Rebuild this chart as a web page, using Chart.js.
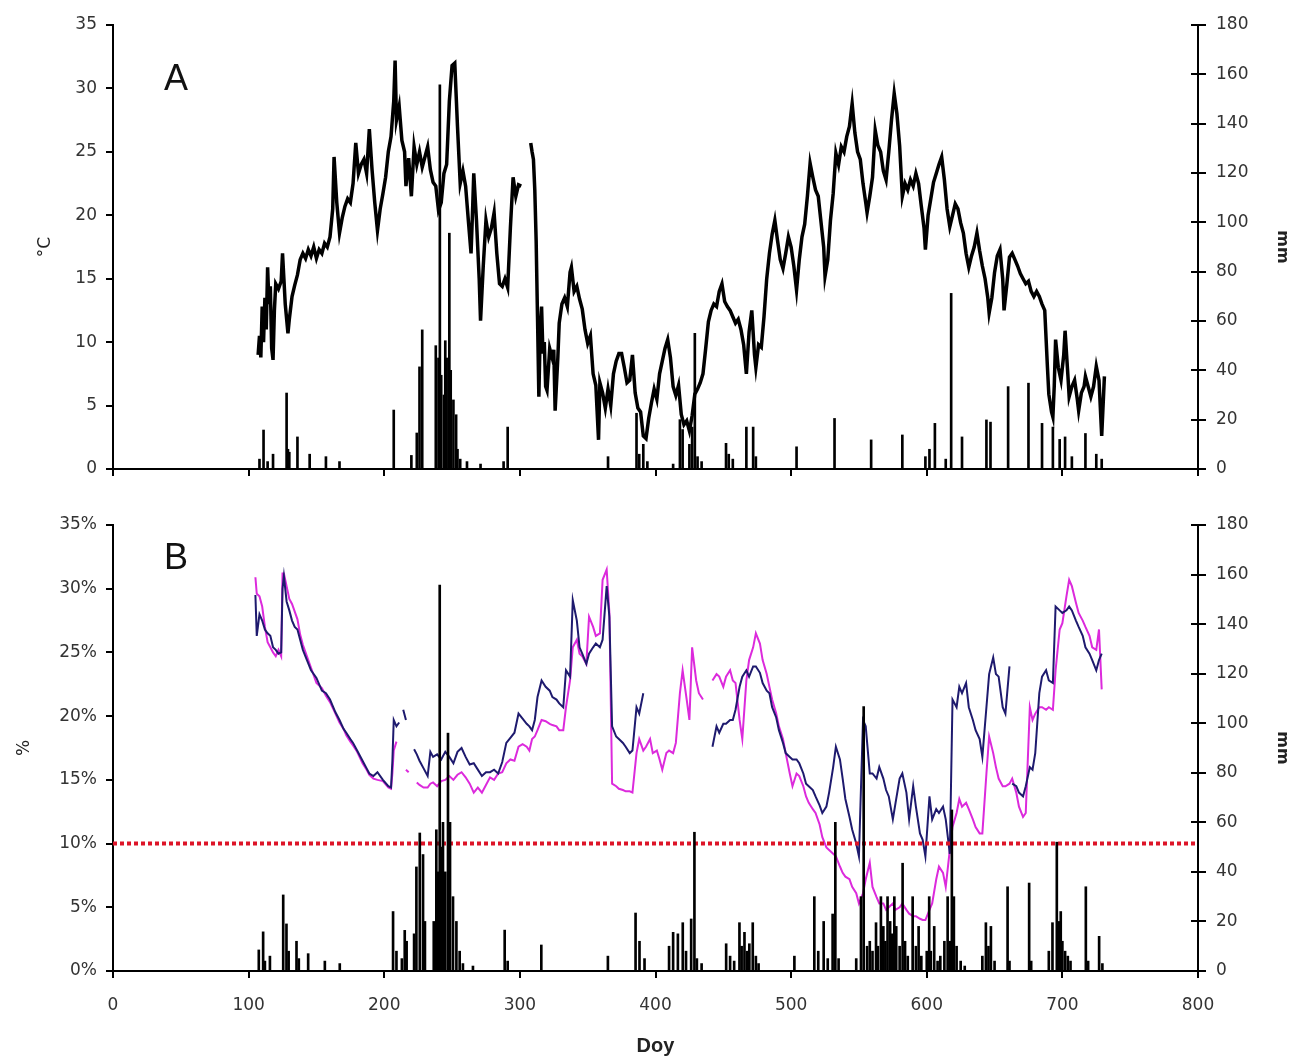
<!DOCTYPE html>
<html>
<head>
<meta charset="utf-8">
<script src="https://cdn.jsdelivr.net/npm/chart.js@4.4.1/dist/chart.umd.min.js"></script>
<style>
  body { margin: 0; background: #fff; }
  #wrap { position: relative; width: 1292px; height: 1059px; }
  canvas { position: absolute; left: 0; }
  #chartA { top: 0; }
  #chartB { top: 490px; }
  .panel-label { position: absolute; font-family: 'Liberation Sans', Arial, sans-serif; font-size: 36px; line-height: 1; color: #111; }
</style>
</head>
<body>
<div id="wrap">
  <canvas id="chartA" width="1292" height="490"></canvas>
  <canvas id="chartB" width="1292" height="569"></canvas>
  <div class="panel-label" style="left:164px; top:60px;">A</div>
  <div class="panel-label" style="left:164px; top:539px;">B</div>
</div>
<script>
// tick labels
const dayTicks = [0, 100, 200, 300, 400, 500, 600, 700, 800];
const tempTicks = [0, 5, 10, 15, 20, 25, 30, 35];
const pctTicks = [0, 5, 10, 15, 20, 25, 30, 35];
const mmTicks = [0, 20, 40, 60, 80, 100, 120, 140, 160, 180];

// panel A - air temperature (°C), null = gap
const tempDay = [107,108,109,110,111,112,113,114,115,116,117,118,119,120,122,124,125,126,127,129,130,132,134,136,138,140,142,144,146,148,150,152,154,156,158,160,162,163,165,167,169,171,173,175,177,179,181,183,185,187,189,191,193,195,197,199,201,203,205,207,208,209,211,213,215,216,218,220,222,224,226,228,230,232,234,236,238,240,242,244,246,248,250,252,254,256,258,260,262,264,265,266,268,270,271,273,275,277,279,281,283,285,287,289,291,293,295,297,299,301,304,308,309,310,311,312,313,314,315,316,317,318,319,320,322,324,325,326,328,329,331,333,335,337,338,340,342,344,346,348,350,352,354,356,358,359,361,363,365,367,369,371,373,375,377,379,381,383,385,387,389,391,393,395,397,399,401,403,405,407,409,411,413,415,417,419,421,423,425,427,429,431,433,435,437,439,441,443,445,447,449,451,453,455,457,459,461,463,465,467,469,471,473,474,476,478,480,482,484,486,488,490,492,494,496,498,500,502,504,506,508,510,512,514,516,518,520,522,524,525,527,529,531,533,535,537,539,541,543,545,547,549,551,553,555,556,558,560,562,564,566,568,570,572,574,576,578,580,582,584,586,588,590,592,594,596,598,599,601,603,605,607,609,611,613,615,617,619,621,623,625,627,629,631,633,635,637,639,641,643,645,646,648,650,652,654,656,657,659,661,663,665,667,669,671,673,675,677,679,681,683,685,687,689,690,692,693,694,695,697,699,701,702,704,705,707,709,711,712,714,716,717,719,721,723,725,727,729,731];
const tempC = [9.0,10.5,8.8,12.8,10.0,13.5,11.0,15.9,13.0,14.4,9.5,8.6,12.5,14.6,14.2,14.8,17.0,15.0,13.0,10.7,11.8,13.6,14.5,15.3,16.5,17.0,16.6,17.3,16.8,17.5,16.6,17.3,17.0,17.8,17.5,18.3,20.5,24.6,21.0,18.6,19.8,20.7,21.3,21.0,22.5,25.7,23.3,24.0,24.4,23.3,26.8,23.6,21.0,18.8,20.5,21.7,23.0,25.0,26.2,29.0,32.2,27.5,28.6,25.9,25.0,22.3,24.5,21.5,25.4,24.0,25.0,23.8,24.6,25.4,23.6,22.6,22.3,20.4,21.0,23.3,24.0,29.0,31.8,32.0,27.0,22.5,23.5,22.3,19.6,17.0,20.0,23.3,19.6,15.0,11.7,16.0,19.6,18.3,19.0,20.2,17.0,14.6,14.4,15.0,14.3,19.0,23.0,21.5,22.4,22.3,null,25.7,25.0,24.4,22.0,18.0,12.0,5.7,11.0,12.8,9.1,10.0,6.5,6.2,9.5,8.7,9.4,4.6,8.8,11.5,13.0,13.5,12.8,15.5,15.9,14.0,14.4,13.4,12.6,11.0,9.9,10.5,7.5,6.6,2.3,6.8,6.0,4.8,6.3,5.0,7.5,8.5,9.1,9.1,8.0,6.8,7.0,9.0,6.0,4.8,4.5,2.6,2.4,4.0,5.2,6.3,5.5,7.5,8.5,9.5,10.2,8.8,6.5,5.8,6.6,4.3,3.5,3.8,3.0,4.2,5.9,6.3,6.8,7.5,9.5,11.6,12.5,13.0,12.8,14.0,14.6,13.2,12.8,12.5,12.0,11.5,11.8,11.0,9.8,7.5,10.8,12.5,9.0,8.0,9.8,9.6,12.0,15.0,17.0,18.5,19.6,18.0,16.5,15.8,17.0,18.3,17.5,16.0,14.1,16.5,18.3,19.3,21.5,24.1,23.0,22.0,21.5,19.5,17.5,15.2,16.5,19.6,21.7,24.9,24.0,25.4,25.0,26.2,27.0,28.8,26.5,25.0,24.4,22.5,21.0,20.2,21.5,23.0,26.7,25.5,25.0,23.5,22.8,25.0,27.5,29.6,28.0,25.5,21.5,22.5,22.0,22.8,22.3,23.3,22.5,20.7,19.0,17.3,20.0,21.3,22.6,23.3,24.0,24.6,22.8,20.5,19.1,20.0,20.9,20.5,19.4,18.6,17.0,15.9,16.8,17.5,18.6,17.2,16.0,15.0,13.5,12.3,13.5,15.5,16.8,17.3,15.0,12.5,14.5,16.7,17.0,16.5,16.0,15.4,15.0,14.6,14.8,14.0,13.6,14.0,13.6,13.0,12.5,8.0,5.9,4.5,4.1,6.5,10.2,8.0,7.0,9.0,10.9,7.5,5.7,6.5,7.0,5.5,4.6,6.0,6.5,7.3,6.5,5.7,6.5,8.1,7.0,2.6,7.3];

// panel A - precipitation (mm)
const rainDayA = [108,111,114,118,128,129,130,136,145,157,167,207,220,224,226,228,238,240,241,242,244,245,246,248,249,251,253,254,256,261,271,288,291,365,386,388,391,394,413,418,420,425,427,429,431,434,452,454,457,467,472,474,504,532,559,582,599,602,606,614,618,626,644,647,660,675,685,693,698,702,707,717,725,729];
const rainA = [4,15.8,3,6,30.8,8,6.8,13,6,5,3,23.9,5.5,14.6,41.4,56.4,50,45,155.7,38,30,52,45,95.6,40,28,22,8,4,3,2,3,17,5,22.6,6,10,3,2,20,16,10,17,55,5,3,10.4,6,4,17,17,5,9,20.5,11.8,13.8,5,8,18.5,4,71.2,13,19.9,19,33.4,34.8,18.5,17,12,13,5,14.4,6,4];

// panel B - soil water content (%), two depths, null = gap
const moistDay = [105,106,108,110,112,114,116,118,120,122,124,125,126,128,130,132,134,136,138,140,143,146,150,154,157,160,164,167,170,172,175,177,180,184,187,189,192,195,199,203,205,206,207,209,211,212,214,216,218,220,222,224,226,229,232,234,236,239,242,245,248,251,254,257,260,263,266,269,272,275,278,281,284,287,290,293,296,299,302,305,307,309,311,313,316,319,322,324,327,329,332,334,337,339,342,344,346,349,351,354,356,359,361,364,366,368,371,373,376,378,381,383,386,388,391,393,396,398,401,403,405,408,410,413,415,418,420,423,425,427,430,432,435,438,442,445,447,450,452,455,457,459,462,464,467,469,472,474,477,479,482,484,486,489,491,494,496,499,501,504,506,509,511,513,516,518,521,523,526,528,531,533,536,538,540,543,545,548,550,553,555,558,560,563,565,568,570,572,575,577,580,582,585,587,590,592,595,597,599,602,604,607,609,612,614,617,619,622,624,626,629,631,634,636,639,641,644,646,649,651,653,656,658,661,662,663,666,668,671,673,676,678,680,683,685,688,690,693,695,698,700,703,705,707,710,712,715,717,720,722,725,727,729];
const navyPct = [29.5,26.3,28.0,27.5,26.8,26.5,26.3,25.4,25.2,24.9,25.0,30.0,31.0,29.0,28.3,27.5,27.0,26.8,26.0,25.2,24.4,23.6,23.0,22.0,21.8,21.3,20.3,19.7,19.0,18.7,18.2,17.9,17.3,16.5,15.9,15.5,15.3,15.6,15.0,14.5,14.4,16.5,19.7,19.2,19.5,null,20.5,19.7,null,null,17.4,17.0,16.5,15.9,15.3,17.2,16.8,17.0,16.6,17.2,16.8,16.3,17.2,17.5,16.8,16.2,16.3,15.8,15.3,15.6,15.6,15.8,15.5,16.4,17.9,18.3,18.7,20.2,19.8,19.4,19.2,18.9,19.7,21.5,22.8,22.3,22.0,21.5,21.3,21.0,20.7,23.6,23.1,29.1,27.5,25.4,24.9,24.1,24.9,25.4,25.7,25.4,26.0,30.2,27.8,19.2,18.4,18.2,17.9,17.6,17.1,17.3,20.7,20.2,21.8,null,null,null,null,null,null,null,null,null,null,null,null,null,null,null,null,null,null,null,17.6,19.2,18.7,19.4,19.4,19.7,19.7,20.5,22.3,23.1,23.6,23.1,23.9,23.9,23.4,22.6,22.0,21.8,20.7,19.9,18.9,17.9,17.1,16.8,16.6,16.6,16.3,15.5,14.7,14.5,14.2,13.7,13.0,12.4,12.9,14.0,16.0,17.6,16.6,15.1,13.5,12.1,11.1,10.0,9.0,19.7,19.2,15.5,15.5,15.1,16.0,15.1,14.2,13.7,11.9,13.2,15.1,15.5,14.0,11.9,14.5,12.9,10.8,10.3,9.0,13.7,11.9,12.7,12.4,12.9,11.9,9.2,21.3,20.7,22.3,21.8,22.6,20.7,19.7,18.9,18.2,16.8,20.7,23.3,24.6,23.3,23.1,20.7,20.2,23.9,null,14.7,14.5,14.0,13.7,14.5,16.0,15.8,17.1,21.8,23.1,23.6,22.8,22.6,28.6,28.3,28.1,28.3,28.6,28.3,27.5,27.0,26.3,25.4,24.9,24.4,23.6,24.4,24.9];
const magentaPct = [30.9,29.6,29.4,28.6,27.0,25.8,25.4,25.0,24.7,25.2,24.7,31.2,31.2,30.2,29.2,28.8,28.2,27.6,26.4,25.6,24.7,23.8,22.6,22.2,21.6,21.1,20.2,19.5,19.0,18.5,18.0,17.7,17.2,16.3,15.8,15.4,15.1,15.0,14.9,14.4,14.3,15.5,17.3,18.0,null,null,null,15.8,15.6,null,null,14.8,14.6,14.4,14.4,14.7,14.8,14.5,14.9,15.0,15.3,15.0,15.4,15.6,15.2,14.7,14.0,14.4,14.0,14.6,15.2,15.0,15.5,15.6,16.3,16.6,16.5,17.6,17.8,17.6,17.3,18.2,18.4,18.9,19.7,19.6,19.4,19.3,19.2,18.9,18.9,20.7,22.8,25.4,26.0,24.9,24.7,24.1,27.8,27.0,26.3,26.5,30.7,31.5,28.1,14.7,14.5,14.3,14.2,14.1,14.1,14.0,17.1,18.2,17.3,17.6,18.2,17.1,17.3,16.6,15.8,17.1,17.3,17.1,17.9,21.8,23.6,21.3,19.7,25.4,22.8,21.8,21.3,null,22.8,23.3,23.1,22.3,23.1,23.6,22.8,22.6,19.7,18.2,22.8,24.4,25.4,26.5,25.7,24.4,23.3,22.3,21.3,20.2,19.2,18.2,17.1,15.5,14.5,15.5,15.3,14.5,13.7,13.2,12.7,12.4,11.5,10.5,9.7,9.5,9.2,9.0,8.2,7.7,7.4,7.2,6.6,6.1,5.3,6.1,7.2,8.5,6.6,5.8,5.3,5.3,4.8,5.0,5.3,4.8,5.0,5.3,4.8,4.5,4.3,4.3,4.1,4.0,4.0,4.8,5.3,7.2,8.2,7.7,6.6,9.5,11.3,12.4,13.5,12.9,13.2,12.7,11.9,11.3,10.8,10.8,15.5,18.4,17.1,16.0,15.1,14.5,14.5,14.7,14.9,15.1,14.0,12.9,12.1,12.4,20.7,19.7,20.2,20.7,20.7,20.5,20.7,20.5,23.6,26.8,27.3,29.4,30.7,30.2,28.9,28.1,27.5,27.0,26.3,25.4,25.2,26.8,22.1];
const thresholdPct = 10;

// panel B - precipitation (mm)
const rainDayB = [107.5,110.7,112,115.7,125.5,127.9,129.5,135.3,137,143.9,156.2,167.2,206.5,209,213,215.1,216.5,222,223.7,226.2,228.6,230,236.5,238.4,239.5,240.9,242,243.3,245,247,248.5,250.7,253.2,255.6,258,265.4,288.8,291,315.8,364.9,385.3,388.2,391.9,410,413,416.5,420.1,422.5,426.3,428.7,430.5,434,452.1,455,458,461.9,463.5,465.6,467.5,469.2,471.7,474,476,502.4,517.1,520,524,527,530.6,532.6,535,548,551.5,553.5,556,558,560,562.6,564,566.2,568,569.5,571.1,573,574.5,576.1,577.5,580,582.2,584,586,589.6,592,594,596,600,601.8,603,605.5,608,610,613,615.4,617,618.5,620,622,625,628,641,643.6,645.5,647.3,650,659.6,661,675.5,677,690,692.7,695.9,697.5,698.8,700,702,704,706,717.3,719,727.1,729.5];
const rainB = [8.5,15.8,4,6,30.7,19,8,12,5,7,4,3,24,8,5,16.4,12,15,42,55.7,47,20,20,57,40,155.8,50,60,40,96,60,30,20,8,3,2,16.5,4,10.5,6,23.4,12,5,10,15.6,15,19.5,8,21,56,5,3,11,6,4,19.5,10,15.6,8,11,19.5,6,3,6,30,8,20,5,23,60,5,5,30,106.7,10,12,8,19.5,10,30,18,12,30,20,15,30,18,10,43.5,12,6,30,10,18,6,8,30,8,18,4,6,12,30,12,65,30,10,4,2,6,19.5,10,18,4,34,4,35.5,4,8,19.5,52,20,24,12,8,6,4,34,4,14,3];

const tickFont = { family: 'DejaVu Sans', size: 17 };
const tickColor = '#333';

function fixTicks(values) {
  return function (scale) { scale.ticks = values.map(v => ({ value: v })); };
}

function pts(xs, ys) {
  return xs.map((x, i) => ({ x: x, y: ys[i] }));
}

function xScale(showLabels, axisHeight) {
  return {
    type: 'linear', position: 'bottom', offset: false,
    min: dayTicks[0], max: dayTicks[dayTicks.length - 1],
    afterBuildTicks: fixTicks(dayTicks),
    afterFit: function (s) { s.height = axisHeight; },
    border: { display: true, color: '#000', width: 2 },
    grid: { display: true, offset: false, drawOnChartArea: false, drawTicks: true, tickLength: 7, color: '#000', lineWidth: 2 },
    ticks: { display: showLabels, font: tickFont, color: tickColor, padding: 17, maxRotation: 0 },
    title: showLabels ? { display: true, text: 'Doy', color: '#222', font: { family: 'Liberation Sans', size: 20, weight: 'bold' }, padding: { bottom: 1 } } : { display: false }
  };
}

function leftScale(values, title, titlePad, fmt) {
  return {
    type: 'linear', position: 'left',
    min: values[0], max: values[values.length - 1],
    afterBuildTicks: fixTicks(values),
    afterFit: function (s) { s.width = 113; },
    border: { display: true, color: '#000', width: 2 },
    grid: { display: true, drawOnChartArea: false, drawTicks: true, tickLength: 7, color: '#000', lineWidth: 2 },
    ticks: { font: tickFont, color: tickColor, padding: 9, callback: fmt },
    title: { display: true, text: title, color: '#222', font: { family: 'DejaVu Sans', size: 17 }, padding: { top: titlePad } }
  };
}

function rightScale() {
  return {
    type: 'linear', position: 'right',
    min: mmTicks[0], max: mmTicks[mmTicks.length - 1],
    afterBuildTicks: fixTicks(mmTicks),
    afterFit: function (s) { s.width = 94; },
    border: { display: true, color: '#000', width: 2 },
    grid: { display: true, drawOnChartArea: false, drawTicks: true, tickLength: 8, color: '#000', lineWidth: 2 },
    ticks: { font: tickFont, color: tickColor, padding: 10 },
    title: { display: true, text: 'mm', color: '#222', font: { family: 'DejaVu Sans', size: 16, weight: 'bold' }, padding: { top: 0 } }
  };
}

// right axis ticks cross the axis line, draw the inner half too
const innerTicks = {
  id: 'innerTicks',
  afterDraw(chart) {
    const s = chart.scales.y2;
    const ctx = chart.ctx;
    ctx.save();
    ctx.strokeStyle = '#000';
    ctx.lineWidth = 2;
    s.ticks.forEach(t => {
      const y = Math.round(s.getPixelForValue(t.value));
      ctx.beginPath();
      ctx.moveTo(s.left - 7, y);
      ctx.lineTo(s.left, y);
      ctx.stroke();
    });
    ctx.restore();
  }
};

const common = {
  responsive: false,
  animation: false,
  devicePixelRatio: 1,
  plugins: { legend: { display: false }, tooltip: { enabled: false } },
  elements: { point: { radius: 0 }, line: { tension: 0 } }
};

new Chart(document.getElementById('chartA'), {
  type: 'line',
  data: {
    datasets: [
      { type: 'bar', data: pts(rainDayA, rainA), yAxisID: 'y2', backgroundColor: '#000', barThickness: 2, order: 0 },
      { type: 'line', data: pts(tempDay, tempC), yAxisID: 'y', borderColor: '#000', borderWidth: 3.5, spanGaps: false, order: 1 }
    ]
  },
  options: Object.assign({}, common, {
    layout: { padding: { top: 25, left: 0, right: 0, bottom: 0 } },
    scales: {
      x: xScale(false, 21),
      y: leftScale(tempTicks, '°C', 35, v => v),
      y2: rightScale()
    }
  }),
  plugins: [innerTicks]
});

new Chart(document.getElementById('chartB'), {
  type: 'line',
  data: {
    datasets: [
      { type: 'bar', data: pts(rainDayB, rainB), yAxisID: 'y2', backgroundColor: '#000', barThickness: 2, order: 0 },
      { type: 'line', data: [{ x: dayTicks[0], y: thresholdPct }, { x: dayTicks[dayTicks.length - 1], y: thresholdPct }], yAxisID: 'y', borderColor: '#dd1428', borderWidth: 4, borderDash: [4, 3], order: 1 },
      { type: 'line', data: pts(moistDay, navyPct), yAxisID: 'y', borderColor: '#1e1a6e', borderWidth: 2, spanGaps: false, order: 2 },
      { type: 'line', data: pts(moistDay, magentaPct), yAxisID: 'y', borderColor: '#dc2adc', borderWidth: 2, spanGaps: false, order: 3 }
    ]
  },
  options: Object.assign({}, common, {
    layout: { padding: { top: 35, left: 0, right: 0, bottom: 0 } },
    scales: {
      x: xScale(true, 88),
      y: leftScale(pctTicks, '%', 14, v => v + '%'),
      y2: rightScale()
    }
  }),
  plugins: [innerTicks]
});
</script>
</body>
</html>
